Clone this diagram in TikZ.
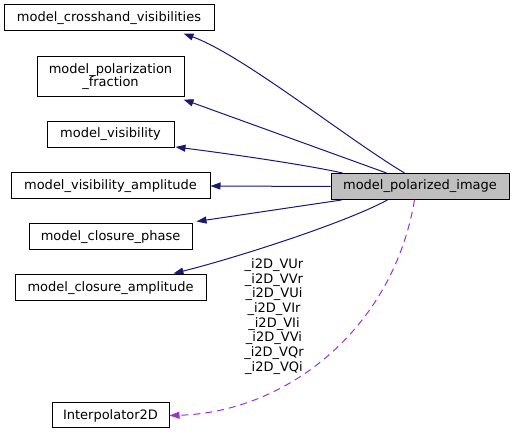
\documentclass[tikz,border=0pt]{standalone}
\usepackage{fontspec}
\setmainfont{DejaVu Sans}
\usetikzlibrary{arrows.meta}
\definecolor{navy}{HTML}{191970}
\definecolor{orchid}{HTML}{9A32CD}
\newcommand{\dx}{\fontsize{13}{13}\selectfont}
\begin{document}
\begin{tikzpicture}[x=1pt,y=-1pt,
    cls/.style={draw=black,line width=1pt,minimum height=26pt,inner sep=0pt,align=center,font=\dx},
    inh/.style={navy,line width=1pt,-{Triangle[length=10pt,width=7pt]}},
    member/.style={orchid,line width=1pt,dash pattern=on 7pt off 5pt,-{Triangle[length=10pt,width=7pt]}}]
    \useasboundingbox (0,0) rectangle (515,435);
    \node[cls,minimum width=210pt] (crosshand) at (109,18) {model\_crosshand\_visibilities};
    \node[cls,minimum width=147pt,minimum height=40pt] (polfrac) at (110.5,77) {model\_polarization\\\_fraction};
    \node[cls,minimum width=127pt] (vis) at (110.5,134.5) {model\_visibility};
    \node[cls,minimum width=199pt] (visamp) at (110.5,186) {model\_visibility\_amplitude};
    \node[cls,minimum width=163pt] (clphase) at (110.5,237) {model\_closure\_phase};
    \node[cls,minimum width=191pt] (clamp) at (110.5,288) {model\_closure\_amplitude};
    \node[cls,minimum width=178pt,fill=black!25] (polimg) at (420,186.5) {model\_polarized\_image};
    \node[cls,minimum width=117pt,minimum height=25pt] (interp) at (110.5,415.5) {Interpolator2D};
    \draw[inh] ([xshift=74pt]polimg.north west) .. controls +(-60,-36) and +(60,22) .. ([xshift=-31pt,yshift=-2pt]crosshand.south east);
    \draw[inh] ([xshift=56pt]polimg.north west) -- ([xshift=-1pt,yshift=-2pt]polfrac.south east);
    \draw[inh] ([xshift=12pt]polimg.north west) .. controls +(-40,-9) and +(40,5) .. ([xshift=1pt,yshift=1pt]vis.south east);
    \draw[inh] (polimg.west) -- (visamp.east);
    \draw[inh] ([xshift=11pt]polimg.south west) -- ([xshift=4pt,yshift=2pt]clphase.north east);
    \draw[inh] ([xshift=57pt]polimg.south west) .. controls +(-45,24) and +(60,-15) .. ([xshift=-33pt,yshift=1pt]clamp.north east);
    \draw[member] ([xshift=84pt]polimg.south west) .. controls +(-22,131) and +(115,-3) .. (interp.east);
    \node[font=\fontsize{13}{14.7}\selectfont,align=center] (vars) at (274,316.5)
      {\_i2D\_VUr\\\_i2D\_VVr\\\_i2D\_VUi\\\_i2D\_VIr\\\_i2D\_VIi\\\_i2D\_VVi\\\_i2D\_VQr\\\_i2D\_VQi};
\end{tikzpicture}
\end{document}
